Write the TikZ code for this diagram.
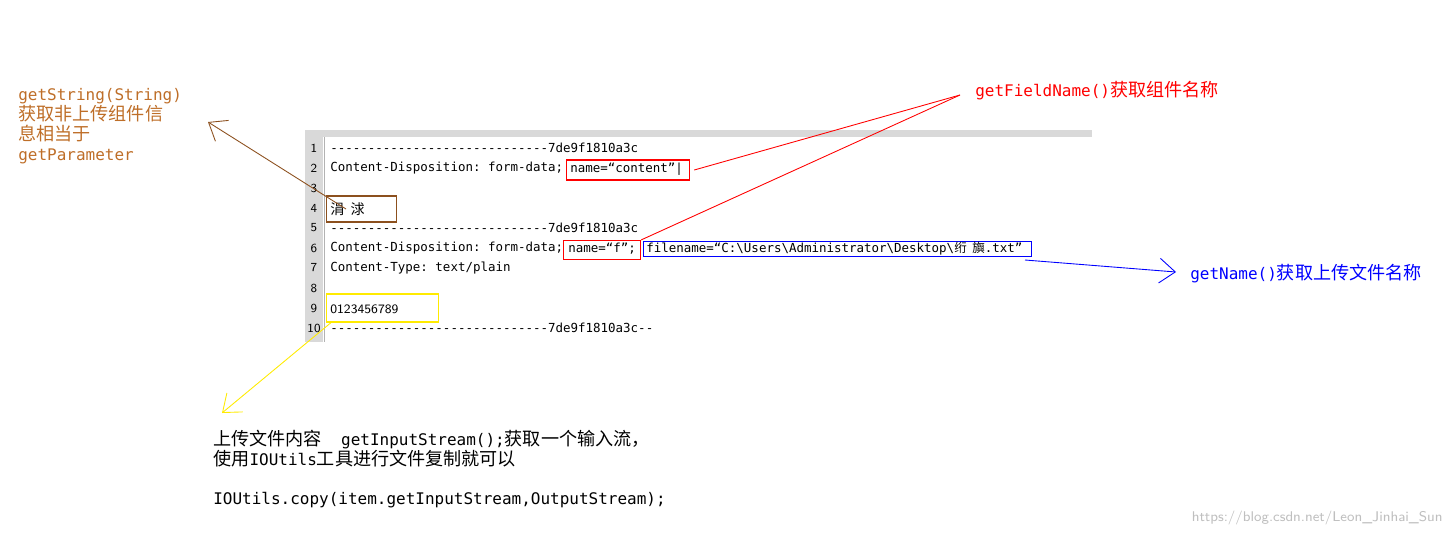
\documentclass[tikz,border=0pt]{standalone}
\usepackage{fontspec}
\setmonofont{DejaVu Sans Mono}
\newfontfamily\cjk{Noto Sans CJK SC}
\newcommand\zh[1]{{\cjk\fontsize{10.3}{11}\selectfont #1}}
\usetikzlibrary{arrows.meta}
\definecolor{brn}{RGB}{140,80,30}
\definecolor{brt}{RGB}{190,110,40}
\definecolor{yel}{RGB}{255,235,0}
\begin{document}
\begin{tikzpicture}[x=0.02cm,y=-0.02cm,
  code/.style={anchor=west,inner sep=0pt,font=\ttfamily\fontsize{7.1}{8}\selectfont},
  lnum/.style={anchor=center,inner sep=0pt,font=\sffamily\fontsize{7}{8}\selectfont},
  lab/.style={anchor=north west,inner sep=0pt,align=left,font=\ttfamily\fontsize{9.1}{11.3}\selectfont},
  arr/.style={-{Straight Barb[length=9pt,width=14pt]},line width=0.5pt}]
\useasboundingbox (0,0) rectangle (1451,535);
% editor
\fill[gray!30] (305,130) rectangle (1092,137);
\fill[gray!30] (305,137) rectangle (323,342);
\draw[gray!60] (324,137) -- (324,342);
\foreach \i in {1,...,10}{\node[lnum] at (314,128+20*\i) {\i};}
\node[code] (l1) at (330,148) {-----------------------------7de9f1810a3c};
\node[code] (l2) at (330,168) {Content-Disposition: form-data;};
\node[code] (l5) at (330,228) {-----------------------------7de9f1810a3c};
\node[code] (l6) at (330,248) {Content-Disposition: form-data;};
\node[code] (l7) at (330,268) {Content-Type: text/plain};
\node[code] (l10) at (330,328) {-----------------------------7de9f1810a3c--};
\node[draw=red,line width=0.7pt,inner sep=0pt,minimum height=20*0.02cm,anchor=west,minimum width=123*0.02cm] (nc) at (566,170) {};
\node[code] (tc) at (570,169) {name=“content”|};
\node[draw=red,line width=0.7pt,inner sep=0pt,minimum height=19*0.02cm,anchor=west,minimum width=77*0.02cm] (nf) at (563,250) {};
\node[code] (tf) at (568,249) {name=“f”;};
\node[draw=blue,line width=0.7pt,inner sep=0pt,minimum height=15*0.02cm,anchor=west,minimum width=388*0.02cm] (fn) at (643,249) {};
\node[code] (tn) at (646,249) {filename=“C:\textbackslash Users\textbackslash Administrator\textbackslash Desktop\textbackslash{\cjk 绗\ \ 旟}.txt”};
\node[draw=brn,line width=0.7pt,inner sep=0pt,minimum height=26*0.02cm,anchor=west,minimum width=70*0.02cm] (hx) at (326,209) {};
\node[anchor=west,inner sep=0pt,font=\cjk\fontsize{8}{9}\selectfont] (th) at (330,209) {涓\ \ 浗};
\node[draw=yel,line width=0.7pt,inner sep=0pt,minimum height=28*0.02cm,anchor=west,minimum width=112*0.02cm] (dg) at (326,308) {};
\node[code,font=\sffamily\fontsize{7.3}{8}\selectfont] (td) at (330,309) {0123456789};
% labels
\node[lab,text=brt] (ls) at (18,88) {getString(String)\\\zh{获取非上传组件信}\\\zh{息相当于}\\getParameter};
\node[lab,text=red] (lf) at (975,81) {getFieldName()\zh{获取组件名称}};
\node[lab,text=blue] (ln) at (1190,264) {getName()\zh{获取上传文件名称}};
\node[lab,text=black] (lu) at (213,430) {\zh{上传文件内容}\ \ getInputStream();\zh{获取一个输入流，}\\\zh{使用}IOUtils\zh{工具进行文件复制就可以}\\[11pt]IOUtils.copy(item.getInputStream,OutputStream);};
\node[anchor=south east,inner sep=0pt,text=gray!50,font=\sffamily\fontsize{8}{9}\selectfont] (wm) at (1443,525) {https://blog.csdn.net/Leon\_Jinhai\_Sun};
% connectors
\coordinate (fpt) at (960,95);
\coordinate (bt) at (208,122);
\coordinate (bs) at (1025,260);
\coordinate (be) at (1176,272);
\coordinate (yt) at (222,413);
\draw[red,line width=0.5pt] (nc.east) ++(4,0) -- (fpt);
\draw[red,line width=0.5pt] (nf.north east) -- (fpt);
\draw[arr,brn] (hx.west) ++(20,0) -- (bt);
\draw[arr,blue] (bs) -- (be);
\draw[arr,yel] (dg.south west) ++(5,0) -- (yt);
\end{tikzpicture}
\end{document}
